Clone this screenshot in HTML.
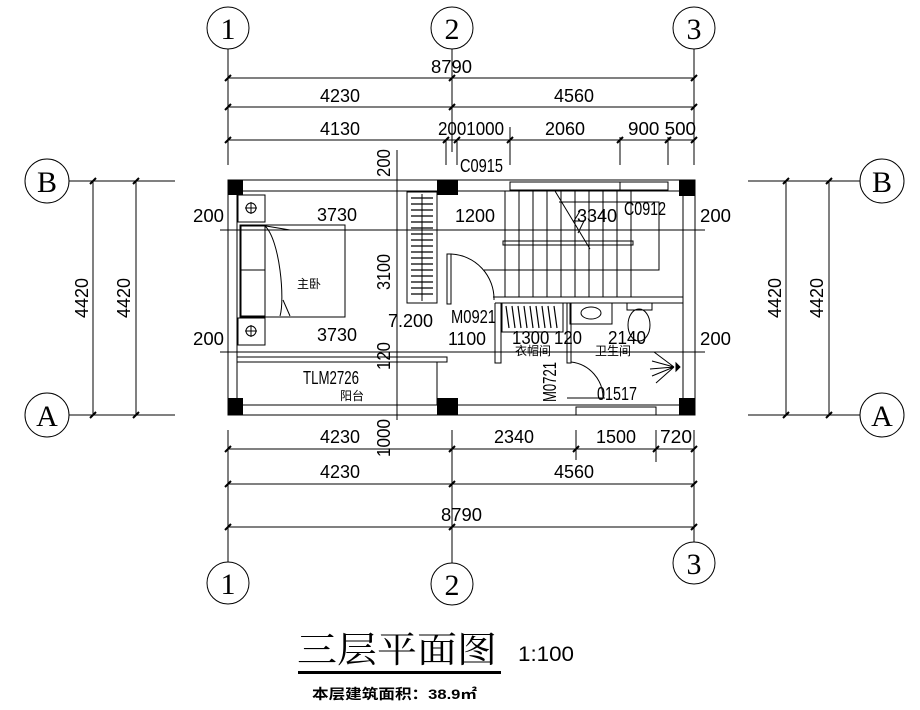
<!DOCTYPE html>
<html><head><meta charset="utf-8"><style>
html,body{margin:0;padding:0;background:#fff;}
svg{display:block;}
text{font-family:"Liberation Sans","Noto Sans CJK SC",sans-serif;fill:#000;}
.d{font-size:18px;}
</style></head><body>
<svg width="920" height="710" viewBox="0 0 920 710" xmlns="http://www.w3.org/2000/svg">
<g stroke="#000" stroke-width="1" fill="none">
<circle cx="228" cy="28" r="21"/><circle cx="452" cy="28" r="21"/><circle cx="694" cy="28" r="21"/>
<circle cx="228" cy="583" r="21"/><circle cx="452" cy="584" r="21"/><circle cx="694" cy="563" r="21"/>
<circle cx="47" cy="181" r="22"/><circle cx="47" cy="415" r="22"/>
<circle cx="882" cy="181" r="22"/><circle cx="882" cy="415" r="22"/>
<line x1="228" y1="49" x2="228" y2="165"/><line x1="452" y1="49" x2="452" y2="152"/><line x1="694" y1="49" x2="694" y2="165"/>
<line x1="446" y1="140" x2="446" y2="165"/><line x1="457" y1="140" x2="457" y2="165"/><line x1="510" y1="127" x2="510" y2="165"/><line x1="620" y1="137" x2="620" y2="165"/><line x1="668" y1="137" x2="668" y2="165"/>
<line x1="228" y1="78" x2="694" y2="78"/><line x1="228" y1="107" x2="694" y2="107"/><line x1="228" y1="140" x2="694" y2="140"/>
<line x1="228" y1="430" x2="228" y2="562"/><line x1="452" y1="430" x2="452" y2="563"/><line x1="694" y1="430" x2="694" y2="542"/>
<line x1="576" y1="430" x2="576" y2="460"/><line x1="656" y1="430" x2="656" y2="462"/>
<line x1="228" y1="449" x2="694" y2="449"/><line x1="228" y1="484" x2="694" y2="484"/><line x1="228" y1="527" x2="694" y2="527"/>
<line x1="69" y1="181" x2="175" y2="181"/><line x1="69" y1="415" x2="175" y2="415"/>
<line x1="93" y1="181" x2="93" y2="415"/><line x1="136" y1="181" x2="136" y2="415"/>
<line x1="748" y1="181" x2="860" y2="181"/><line x1="748" y1="415" x2="860" y2="415"/>
<line x1="786" y1="181" x2="786" y2="415"/><line x1="829" y1="181" x2="829" y2="415"/>
<g stroke-width="2">
<path d="M225 81l6-6M449 81l6-6M691 81l6-6M225 110l6-6M449 110l6-6M691 110l6-6M225 143l6-6M443 143l6-6M454 143l6-6M507 143l6-6M617 143l6-6M665 143l6-6M691 143l6-6"/>
<path d="M225 452l6-6M449 452l6-6M573 452l6-6M653 452l6-6M691 452l6-6M225 487l6-6M449 487l6-6M691 487l6-6M225 530l6-6M449 530l6-6M691 530l6-6"/>
<path d="M90 184l6-6M133 184l6-6M90 418l6-6M133 418l6-6M783 184l6-6M826 184l6-6M783 418l6-6M826 418l6-6"/>
</g>
<rect x="228" y="180" width="467" height="235"/>
<line x1="237" y1="191" x2="683" y2="191"/>
<line x1="237" y1="191" x2="237" y2="405"/>
<line x1="683" y1="191" x2="683" y2="405"/>
<line x1="458" y1="405" x2="683" y2="405"/>
<line x1="237" y1="405" x2="437" y2="405"/>
<line x1="220" y1="230" x2="705" y2="230"/><line x1="220" y1="352" x2="705" y2="352"/>
<line x1="397" y1="150" x2="397" y2="420"/>
<rect x="238" y="195" width="27" height="27"/><rect x="238" y="318" width="27" height="27"/>
<circle cx="251" cy="208" r="5"/><circle cx="251" cy="331" r="5"/>
<path d="M245 208h12M251 202v12M245 331h12M251 325v12"/>
<rect x="240" y="225" width="105" height="92"/>
<rect x="241" y="226" width="24" height="44"/><rect x="241" y="270" width="24" height="46"/>
<path d="M265 226 C280 240 285 300 280 316 M260 225 L290 230 M283 300 L290 316"/>
<rect x="407" y="192" width="30" height="111"/>
<line x1="422" y1="194" x2="422" y2="301"/>
<g stroke-width="1.2"><path d="M411 198h22M411 204h22M411 210h22M411 216h22M411 222h22M411 228h22M411 234h22M411 240h22M411 246h22M411 252h22M411 258h22M411 264h22M411 270h22M411 276h22M411 282h22M411 288h22M411 294h22"/></g>
<path d="M447 254v50h4v-50z"/>
<path d="M451 254 A45 45 0 0 1 494 300"/>
<line x1="493" y1="297" x2="683" y2="297"/>
<path d="M505 191v106M519 191v106M533 191v106M547 191v106M561 191v106M575 191v106M589 191v106M603 191v106M617 191v106M631 191v106"/>
<rect x="503" y="241" width="130" height="4"/>
<path d="M555 191l35 58M484 270h175v-68h-100"/>
<path d="M580 211l-6 10l10 0l-6 12"/>
<rect x="510" y="182" width="110" height="8"/><rect x="620" y="182" width="48" height="8"/>
<rect x="502" y="303" width="61" height="29"/>
<g stroke-width="1.2"><path d="M506 306l3 22M512 306l3 22M518 306l3 22M524 306l3 22M530 306l3 22M536 306l3 22M542 306l3 22M548 306l3 22M554 306l3 22"/></g>
<rect x="570" y="303" width="42" height="21"/><ellipse cx="591" cy="313" rx="10" ry="6"/>
<rect x="627" y="303" width="25" height="7"/><ellipse cx="639" cy="325" rx="11" ry="16"/>
<line x1="495" y1="303" x2="683" y2="303"/>
<path d="M495 303v60h6v-60M567 303v60h4v-60"/>
<path d="M571 362 A36 36 0 0 1 603 398"/>
<line x1="567" y1="398" x2="605" y2="398"/>
<rect x="576" y="407" width="80" height="8"/>
<path d="M674 367l-20-15M674 367l-22-6M674 367l-24 2M674 367l-22 9M674 367l-18 16"/>
<path d="M676 363l4 4l-4 4z" fill="#000"/>
<rect x="237" y="357" width="210" height="5"/>
<rect x="237" y="362" width="200" height="43"/>
</g>
<g fill="#000">
<rect x="228" y="180" width="15" height="15"/><rect x="437" y="180" width="21" height="15"/><rect x="679" y="180" width="16" height="16"/>
<rect x="228" y="398" width="15" height="17"/><rect x="437" y="398" width="21" height="17"/><rect x="679" y="398" width="16" height="17"/>
</g>
<g style="font-size:30px">
<text x="228" y="39" text-anchor="middle" style="font-family:'Liberation Serif',serif;font-size:30px">1</text>
<text x="452" y="39" text-anchor="middle" style="font-family:'Liberation Serif',serif;font-size:30px">2</text>
<text x="694" y="39" text-anchor="middle" style="font-family:'Liberation Serif',serif;font-size:30px">3</text>
<text x="228" y="594" text-anchor="middle" style="font-family:'Liberation Serif',serif;font-size:30px">1</text>
<text x="452" y="595" text-anchor="middle" style="font-family:'Liberation Serif',serif;font-size:30px">2</text>
<text x="694" y="574" text-anchor="middle" style="font-family:'Liberation Serif',serif;font-size:30px">3</text>
<text x="47" y="192" text-anchor="middle" style="font-family:'Liberation Serif',serif;font-size:30px">B</text>
<text x="47" y="426" text-anchor="middle" style="font-family:'Liberation Serif',serif;font-size:30px">A</text>
<text x="882" y="192" text-anchor="middle" style="font-family:'Liberation Serif',serif;font-size:30px">B</text>
<text x="882" y="426" text-anchor="middle" style="font-family:'Liberation Serif',serif;font-size:30px">A</text>
</g>
<g>
<text x="431" y="73" textLength="41" lengthAdjust="spacingAndGlyphs" class="d">8790</text>
<text x="320" y="102" textLength="40" lengthAdjust="spacingAndGlyphs" class="d">4230</text>
<text x="554" y="102" textLength="40" lengthAdjust="spacingAndGlyphs" class="d">4560</text>
<text x="320" y="135" textLength="40" lengthAdjust="spacingAndGlyphs" class="d">4130</text>
<text x="438" y="135" textLength="66" lengthAdjust="spacingAndGlyphs" class="d">2001000</text>
<text x="545" y="135" textLength="40" lengthAdjust="spacingAndGlyphs" class="d">2060</text>
<text x="628" y="135" textLength="68" lengthAdjust="spacingAndGlyphs" class="d">900 500</text>
<text x="460" y="172" textLength="43" lengthAdjust="spacingAndGlyphs" class="d">C0915</text>
<text x="320" y="443" textLength="40" lengthAdjust="spacingAndGlyphs" class="d">4230</text>
<text x="494" y="443" textLength="40" lengthAdjust="spacingAndGlyphs" class="d">2340</text>
<text x="596" y="443" textLength="40" lengthAdjust="spacingAndGlyphs" class="d">1500</text>
<text x="660" y="443" textLength="32" lengthAdjust="spacingAndGlyphs" class="d">720</text>
<text x="320" y="478" textLength="40" lengthAdjust="spacingAndGlyphs" class="d">4230</text>
<text x="554" y="478" textLength="40" lengthAdjust="spacingAndGlyphs" class="d">4560</text>
<text x="441" y="521" textLength="41" lengthAdjust="spacingAndGlyphs" class="d">8790</text>
<text x="193" y="222" textLength="31" lengthAdjust="spacingAndGlyphs" class="d">200</text>
<text x="193" y="345" textLength="31" lengthAdjust="spacingAndGlyphs" class="d">200</text>
<text x="700" y="222" textLength="31" lengthAdjust="spacingAndGlyphs" class="d">200</text>
<text x="700" y="345" textLength="31" lengthAdjust="spacingAndGlyphs" class="d">200</text>
<text x="317" y="221" textLength="40" lengthAdjust="spacingAndGlyphs" class="d">3730</text>
<text x="317" y="341" textLength="40" lengthAdjust="spacingAndGlyphs" class="d">3730</text>
<text x="455" y="222" textLength="40" lengthAdjust="spacingAndGlyphs" class="d">1200</text>
<text x="577" y="222" textLength="40" lengthAdjust="spacingAndGlyphs" class="d">3340</text>
<text x="624" y="215" textLength="42" lengthAdjust="spacingAndGlyphs" class="d">C0912</text>
<text x="388" y="327" textLength="45" lengthAdjust="spacingAndGlyphs" class="d">7.200</text>
<text x="451" y="323" textLength="45" lengthAdjust="spacingAndGlyphs" class="d">M0921</text>
<text x="448" y="345" textLength="38" lengthAdjust="spacingAndGlyphs" class="d">1100</text>
<text x="512" y="344" textLength="70" lengthAdjust="spacingAndGlyphs" class="d">1300 120</text>
<text x="608" y="344" textLength="38" lengthAdjust="spacingAndGlyphs" class="d">2140</text>
<text x="303" y="384" textLength="56" lengthAdjust="spacingAndGlyphs" class="d">TLM2726</text>
<text x="597" y="400" textLength="40" lengthAdjust="spacingAndGlyphs" class="d">01517</text>
<text transform="translate(88,318) rotate(-90)" textLength="40" lengthAdjust="spacingAndGlyphs" class="d">4420</text>
<text transform="translate(130,318) rotate(-90)" textLength="40" lengthAdjust="spacingAndGlyphs" class="d">4420</text>
<text transform="translate(781,318) rotate(-90)" textLength="40" lengthAdjust="spacingAndGlyphs" class="d">4420</text>
<text transform="translate(823,318) rotate(-90)" textLength="40" lengthAdjust="spacingAndGlyphs" class="d">4420</text>
<text transform="translate(390,290) rotate(-90)" textLength="36" lengthAdjust="spacingAndGlyphs" class="d">3100</text>
<text transform="translate(390,177) rotate(-90)" textLength="28" lengthAdjust="spacingAndGlyphs" class="d">200</text>
<text transform="translate(390,370) rotate(-90)" textLength="28" lengthAdjust="spacingAndGlyphs" class="d">120</text>
<text transform="translate(390,457) rotate(-90)" textLength="38" lengthAdjust="spacingAndGlyphs" class="d">1000</text>
<text transform="translate(556,402) rotate(-90)" textLength="40" lengthAdjust="spacingAndGlyphs" class="d">M0721</text>
</g>
<text x="297" y="288" style="font-size:12px">主卧</text>
<text x="340" y="400" style="font-size:12px">阳台</text>
<text x="515" y="355" style="font-size:12px">衣帽间</text>
<text x="595" y="355" style="font-size:12px">卫生间</text>
<text x="297" y="662" textLength="200" lengthAdjust="spacingAndGlyphs" style="font-family:'Liberation Serif','Noto Serif CJK SC',serif;font-size:36px">三层平面图</text>
<rect x="298" y="671" width="203" height="3" fill="#000"/>
<text x="518" y="661" textLength="56" lengthAdjust="spacingAndGlyphs" style="font-size:21px">1:100</text>
<text x="312" y="699" textLength="165" lengthAdjust="spacingAndGlyphs" style="font-size:14px;font-weight:bold">本层建筑面积：38.9㎡</text>
</svg>
</body></html>
